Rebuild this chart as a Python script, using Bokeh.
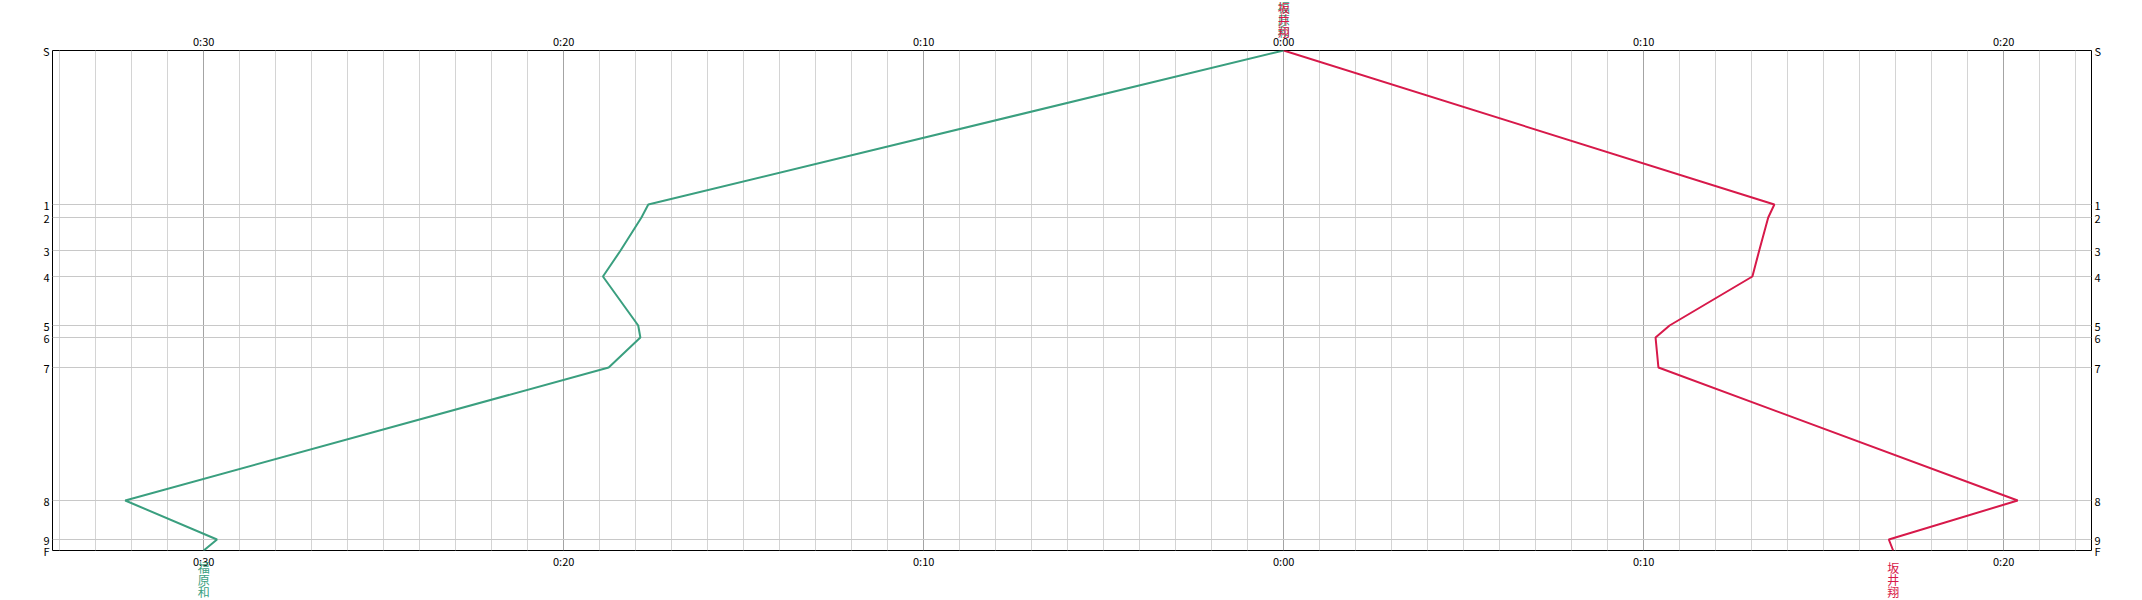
from bokeh.plotting import figure
from bokeh.models import Range1d, LinearAxis, FixedTicker, CustomJSTickFormatter, ColumnDataSource
from bokeh.core.properties import value
from bokeh.embed import file_html
from bokeh.resources import INLINE

# ---- data ----
stations = ["S", "1", "2", "3", "4", "5", "6", "7", "8", "9", "F"]
station_pos = [0, 154, 167, 200, 226, 275, 287, 317, 450, 489, 500]

runner_a = "福原和"
runner_a_min = [0, -17.65, -17.84, -18.42, -18.91, -17.93, -17.87, -18.75, -32.18, -29.63, -30.0]
runner_b = "坂井翔"
runner_b_min = [0, 13.63, 13.46, 13.21, 13.02, 10.72, 10.33, 10.41, 20.39, 16.81, 16.93]

major_ticks = [-30, -20, -10, 0, 10, 20]
minor_ticks = [m for m in range(-34, 23) if m % 10 != 0]

GREEN = "#3a9f7f"
RED = "#d7194a"
FONT = "Noto Sans CJK JP"

p = figure(width=2142, height=600, output_backend="svg", toolbar_location=None,
           x_range=Range1d(-34.2, 22.44), y_range=Range1d(500, 0),
           x_axis_location=None, y_axis_location=None,
           min_border_left=52, min_border_right=51, min_border_top=50, min_border_bottom=50)
p.outline_line_color = "black"
p.outline_line_width = 1
p.background_fill_color = "white"
p.border_fill_color = "white"

xticker = FixedTicker(ticks=major_ticks, minor_ticks=minor_ticks)
yticker = FixedTicker(ticks=station_pos, minor_ticks=[])
xfmt = CustomJSTickFormatter(code="""
const m = Math.abs(Math.round(tick));
return Math.floor(m/60) + ":" + String(m % 60).padStart(2, "0");
""")
ylabels = {pos: name for pos, name in zip(station_pos, stations)}

def style_axis(ax, standoff):
    ax.axis_line_color = None
    ax.major_tick_line_color = None
    ax.minor_tick_line_color = None
    ax.major_tick_out = 0
    ax.major_tick_in = 0
    ax.minor_tick_out = 0
    ax.minor_tick_in = 0
    ax.major_label_standoff = standoff
    ax.major_label_text_font = FONT
    ax.major_label_text_font_size = "11px"
    ax.major_label_text_color = "black"

for loc in ("above", "below"):
    ax = LinearAxis(ticker=xticker, formatter=xfmt)
    style_axis(ax, 2)
    p.add_layout(ax, loc)
for loc in ("left", "right"):
    ax = LinearAxis(ticker=yticker, major_label_overrides=ylabels)
    style_axis(ax, 3)
    p.add_layout(ax, loc)

p.xgrid.ticker = xticker
p.xgrid.grid_line_color = "#a4a4a4"
p.xgrid.minor_grid_line_color = "#d4d4d4"
p.ygrid.ticker = yticker
p.ygrid.grid_line_color = "#c8c8c8"

p.line(runner_a_min, station_pos, line_color=GREEN, line_width=2)
p.line(runner_b_min, station_pos, line_color=RED, line_width=2)

# runner names, written vertically at the start (S) and the finish (F) of each line
for name, xs, color in ((runner_a, runner_a_min, GREEN), (runner_b, runner_b_min, RED)):
    chars = list(name)
    src = ColumnDataSource(dict(
        x=[xs[0]] * 3 + [xs[-1]] * 3,
        y=[station_pos[0]] * 3 + [station_pos[-1]] * 3,
        t=chars + chars,
        yo=[-43, -31, -19, 17, 29, 41],
    ))
    p.text(x="x", y="y", text="t", y_offset="yo", source=src, text_color=color,
           text_font=value(FONT), text_font_size="12px", text_align="center",
           text_baseline="middle", level="overlay")

open("out.html", "w").write(file_html(p, INLINE))
